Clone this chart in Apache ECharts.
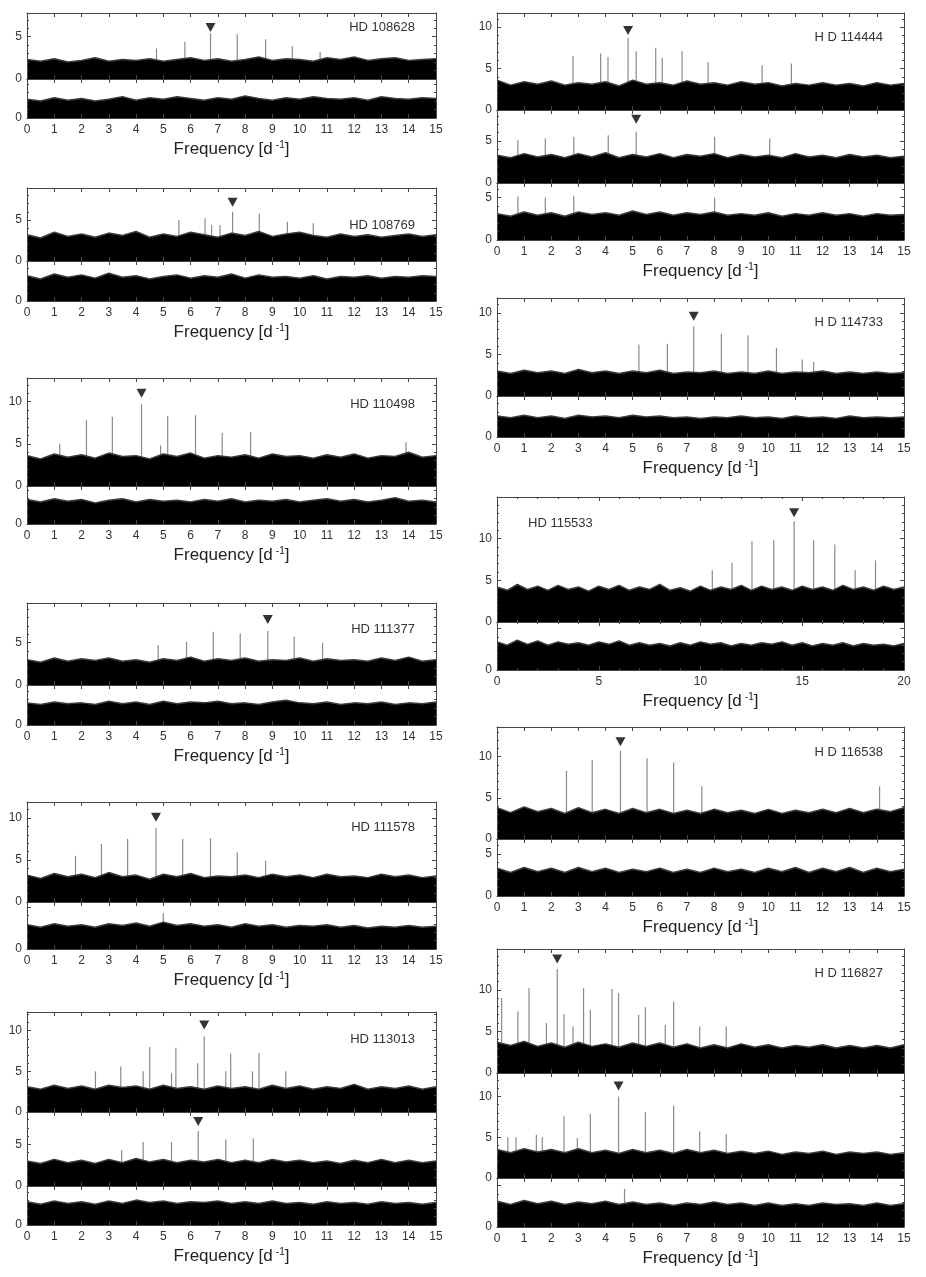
<!DOCTYPE html>
<html>
<head>
<meta charset="utf-8">
<script src="https://cdn.jsdelivr.net/npm/echarts@6/dist/echarts.min.js"></script>
<style>
  html, body { margin: 0; padding: 0; background: #fff; }
  #chart { width: 926px; height: 1277px; }
</style>
</head>
<body>
<div id="chart"></div>
<script>
// noise envelope (top of the black band), one value every 0.5 d-1
const hd108628NoiseA = [2.3,2.1,2.4,2.0,2.2,2.5,2.1,2.3,2.2,2.4, 2.1,2.3,2.5,2.2,2.4,2.1,2.3,2.6,2.2,2.4, 2.3,2.1,2.5,2.3,2.6,2.2,2.4,2.5,2.2,2.3,2.4]
const hd108628NoiseB = [2.2,2.0,2.4,2.1,2.3,2.0,2.2,2.5,2.1,2.4, 2.2,2.5,2.3,2.1,2.4,2.2,2.6,2.3,2.1,2.4, 2.2,2.5,2.3,2.2,2.4,2.1,2.5,2.3,2.2,2.4,2.3]
const hd108769NoiseA = [3.2,2.8,3.5,3.0,3.3,2.9,3.4,3.1,3.6,2.9, 3.3,3.0,3.5,3.2,2.9,3.4,3.1,3.6,3.0,3.3, 3.5,3.1,2.9,3.3,3.0,3.2,2.9,3.1,3.3,3.0,3.2]
const hd108769NoiseB = [3.1,2.7,3.3,2.9,3.2,2.8,3.4,2.9,3.1,2.7, 3.0,3.2,2.8,3.1,2.9,3.3,2.8,3.2,2.9,3.0, 2.8,3.1,2.7,3.0,2.9,3.1,2.8,3.0,2.9,3.1,3.0]
const hd110498NoiseA = [3.6,3.2,3.8,3.4,3.7,3.3,3.9,3.5,3.6,3.2, 3.8,3.5,3.9,3.3,3.6,3.4,3.7,3.3,3.8,3.5, 3.6,3.3,3.7,3.4,3.8,3.3,3.6,3.5,4.0,3.4,3.6]
const hd110498NoiseB = [2.9,2.6,3.0,2.7,2.9,2.5,2.8,3.0,2.6,2.9, 2.7,2.8,2.6,2.9,2.7,3.0,2.6,2.8,2.7,2.9, 2.6,2.8,3.0,2.7,2.9,2.6,2.8,3.1,2.7,2.8,2.6]
const hd111377NoiseA = [3.0,2.7,3.2,2.8,3.1,2.9,3.2,2.8,3.0,2.7, 3.1,2.9,3.3,2.8,3.1,2.9,3.2,2.8,3.0,2.9, 3.2,2.8,3.1,2.9,3.0,2.8,3.2,2.9,3.3,2.8,3.0]
const hd111377NoiseB = [2.6,2.4,2.7,2.5,2.6,2.4,2.8,2.5,2.7,2.4, 2.8,2.5,2.7,2.6,2.8,2.5,2.6,2.4,2.7,2.9, 2.6,2.5,2.7,2.4,2.6,2.5,2.7,2.4,2.6,2.5,2.7]
const hd111578NoiseA = [3.2,2.8,3.4,3.0,3.3,2.9,3.5,3.0,3.2,2.7, 3.3,3.0,3.4,2.9,3.1,3.0,3.2,2.9,3.3,3.0, 3.2,2.9,3.3,3.0,3.1,2.9,3.3,3.0,3.2,2.9,3.1]
const hd111578NoiseB = [2.9,2.6,3.0,2.7,2.9,2.6,3.0,2.8,3.1,2.7, 3.2,2.8,3.0,2.7,2.9,2.6,3.0,2.7,2.9,2.6, 2.8,2.7,2.9,2.6,2.8,2.5,2.7,2.6,2.8,2.6,2.7]
const hd113013NoiseA = [3.1,2.8,3.3,2.9,3.2,2.8,3.3,3.0,3.2,2.8, 3.3,2.9,3.1,2.8,3.2,2.9,3.1,2.8,3.3,2.9, 3.2,2.8,3.1,2.9,3.4,2.8,3.1,2.9,3.2,2.8,3.1]
const hd113013NoiseB = [3.0,2.7,3.2,2.8,3.1,2.7,3.2,2.8,3.3,2.9, 3.2,2.8,3.1,2.9,3.2,2.8,3.1,2.8,3.2,2.9, 3.1,2.8,3.0,2.7,3.1,2.8,3.2,2.8,3.1,2.8,3.0]
const hd113013NoiseC = [2.8,2.5,2.9,2.6,2.8,2.5,2.9,2.6,3.0,2.7, 2.9,2.6,2.8,2.7,2.9,2.6,2.8,2.6,2.9,2.6, 2.7,2.5,2.8,2.6,2.7,2.5,2.8,2.6,2.7,2.5,2.7]
const hd114444NoiseA = [3.6,3.0,3.4,3.1,3.5,3.0,3.3,3.1,3.4,2.9, 3.6,3.1,3.3,3.0,3.5,3.1,3.3,3.0,3.4,3.1, 3.3,2.9,3.2,3.0,3.3,3.0,3.2,2.9,3.3,3.0,3.2]
const hd114444NoiseB = [3.3,3.0,3.5,3.1,3.4,3.0,3.5,3.1,3.6,3.0, 3.4,3.1,3.5,3.0,3.4,3.2,3.5,3.0,3.4,3.1, 3.3,3.0,3.5,3.1,3.3,3.0,3.4,3.1,3.3,3.0,3.2]
const hd114444NoiseC = [3.1,2.8,3.3,2.9,3.2,2.8,3.3,3.0,3.2,2.9, 3.4,3.0,3.3,2.9,3.2,3.0,3.3,2.9,3.1,2.9, 3.2,2.8,3.1,2.9,3.2,2.9,3.1,2.8,3.1,2.9,3.0]
const hd114733NoiseA = [3.0,2.7,3.1,2.8,3.0,2.7,3.2,2.8,3.0,2.7, 3.0,2.8,3.1,2.7,2.9,2.8,3.0,2.7,2.9,2.7, 3.0,2.7,2.9,2.8,3.0,2.7,2.9,2.7,2.9,2.7,2.8]
const hd114733NoiseB = [2.5,2.3,2.6,2.3,2.5,2.2,2.6,2.4,2.5,2.3, 2.6,2.4,2.5,2.3,2.4,2.2,2.4,2.3,2.5,2.3, 2.4,2.2,2.5,2.3,2.4,2.2,2.5,2.3,2.4,2.3,2.4]
const hd115533NoiseA = [4.2,3.8,4.5,3.9,4.3,3.8,4.4,3.9,4.2,3.7, 4.3,3.9,4.4,3.8,4.2,3.9,4.5,3.8,4.1,3.7, 4.3,3.8,4.2,3.9,4.4,3.8,4.3,3.9,4.2,3.8, 4.3,3.9,4.2,3.8,4.4,3.9,4.2,3.8,4.3,3.9,4.2]
const hd115533NoiseB = [3.4,3.0,3.6,3.1,3.5,3.0,3.4,3.1,3.3,3.0, 3.4,3.1,3.5,3.0,3.3,3.0,3.2,2.9,3.3,3.0, 3.4,3.1,3.3,2.9,3.2,3.0,3.3,3.1,3.4,3.0, 3.3,2.9,3.2,3.0,3.3,2.9,3.2,3.0,3.1,2.9,3.2]
const hd116538NoiseA = [3.8,3.2,3.9,3.3,3.7,3.1,3.8,3.2,3.6,3.1, 3.7,3.2,3.6,3.1,3.5,3.1,3.6,3.2,3.5,3.1, 3.6,3.1,3.5,3.2,3.6,3.2,3.7,3.2,3.6,3.3,3.8]
const hd116538NoiseB = [3.3,2.8,3.4,2.9,3.3,2.8,3.4,2.9,3.3,2.8, 3.2,2.9,3.3,2.8,3.2,2.8,3.3,2.9,3.2,2.8, 3.3,2.9,3.4,2.8,3.3,2.9,3.4,2.8,3.3,2.9,3.2]
const hd116827NoiseA = [3.7,3.3,3.8,3.2,3.6,3.1,3.7,3.2,3.5,3.1, 3.6,3.2,3.6,3.1,3.5,3.0,3.4,3.0,3.5,3.1, 3.4,3.0,3.3,3.1,3.4,3.0,3.3,3.0,3.3,3.0,3.4]
const hd116827NoiseB = [3.5,3.1,3.6,3.2,3.5,3.1,3.6,3.1,3.4,3.0, 3.5,3.1,3.4,3.0,3.5,3.1,3.4,3.0,3.3,3.0, 3.3,2.9,3.2,3.0,3.3,2.9,3.2,3.0,3.2,2.9,3.1]
const hd116827NoiseC = [3.1,2.7,3.2,2.8,3.1,2.7,3.0,2.8,3.1,2.7, 3.0,2.7,2.9,2.6,2.9,2.7,3.0,2.7,2.9,2.6, 2.9,2.6,2.8,2.6,2.9,2.7,2.8,2.6,2.9,2.6,2.8]

// peaks [frequency, amplitude]
const hd108628PeaksA = [[4.75,3.6],[5.79,4.4],[6.73,5.4],[7.71,5.3],[8.75,4.7],[9.73,3.9],[10.75,3.2]]
const hd108769PeaksA = [[5.57,5.0],[6.53,5.2],[6.77,4.4],[7.08,4.4],[7.54,6.0],[8.52,5.8],[9.55,4.8],[10.5,4.6]]
const hd110498PeaksA = [[1.2,5.0],[2.18,7.8],[3.13,8.2],[4.2,9.7],[4.9,4.8],[5.16,8.3],[6.18,8.4],[7.16,6.3],[8.2,6.4],[13.9,5.2]]
const hd111377PeaksA = [[4.81,4.7],[5.85,5.1],[6.83,6.3],[7.82,6.1],[8.83,6.4],[9.8,5.7],[10.84,5.0]]
const hd111578PeaksA = [[1.78,5.5],[2.73,6.9],[3.69,7.5],[4.73,8.8],[5.71,7.5],[6.73,7.6],[7.71,5.9],[8.75,4.9]]
const hd111578PeaksB = [[5.0,4.3]]
const hd113013PeaksA = [[2.51,5.0],[3.44,5.6],[4.26,5.0],[4.5,8.0],[5.3,4.8],[5.46,7.9],[6.26,6.0],[6.5,9.3],[7.29,5.0],[7.47,7.2],[8.27,5.0],[8.51,7.3],[9.49,5.0]]
const hd113013PeaksB = [[3.47,4.3],[4.26,5.3],[5.3,5.3],[6.28,6.6],[7.29,5.6],[8.3,5.7]]
const hd114444PeaksA = [[2.8,6.5],[3.82,6.8],[4.09,6.4],[4.83,8.7],[5.13,7.1],[5.85,7.5],[6.09,6.3],[6.82,7.1],[7.78,5.8],[9.77,5.4],[10.85,5.6]]
const hd114444PeaksB = [[0.77,5.1],[1.78,5.3],[2.83,5.5],[4.1,5.7],[5.13,6.1],[8.02,5.5],[10.05,5.3]]
const hd114444PeaksC = [[0.77,5.1],[1.78,5.0],[2.83,5.2],[8.02,5.0]]
const hd114733PeaksA = [[5.23,6.2],[6.28,6.3],[7.25,8.4],[8.27,7.5],[9.25,7.3],[10.3,5.8],[11.25,4.4],[11.67,4.1]]
const hd115533PeaksA = [[10.58,6.2],[11.55,7.1],[12.53,9.7],[13.6,9.8],[14.6,12.1],[15.56,9.8],[16.6,9.3],[17.6,6.2],[18.6,7.4]]
const hd116538PeaksA = [[2.56,8.3],[3.51,9.6],[4.55,10.7],[5.53,9.8],[6.51,9.3],[7.55,6.4],[14.1,6.4]]
const hd116827PeaksA = [[0.17,9.0],[0.77,7.4],[1.18,10.2],[1.82,6.0],[2.22,12.5],[2.47,7.1],[2.8,5.6],[3.19,10.2],[3.44,7.6],[4.24,10.1],[4.48,9.6],[5.22,7.0],[5.47,7.9],[6.2,5.8],[6.51,8.6],[7.47,5.6],[8.45,5.6]]
const hd116827PeaksB = [[0.4,5.0],[0.7,5.0],[1.45,5.3],[1.67,5.0],[2.47,7.6],[2.96,4.9],[3.44,7.9],[4.48,10.0],[5.47,8.1],[6.51,8.9],[7.47,5.7],[8.45,5.4]]
const hd116827PeaksC = [[4.7,4.6]]

// identified frequency markers [frequency, marker height]
const hd108628Mark = [6.73, 6.1]
const hd108769Mark = [7.54, 7.15]
const hd110498Mark = [4.2, 11.0]
const hd111377Mark = [8.83, 7.75]
const hd111578Mark = [4.73, 10.1]
const hd113013MarkA = [6.5, 10.7]
const hd113013MarkB = [6.28, 7.75]
const hd114444MarkA = [4.83, 9.6]
const hd114444MarkB = [5.13, 7.6]
const hd114733Mark = [7.25, 9.6]
const hd115533Mark = [14.6, 13.1]
const hd116538Mark = [4.55, 11.8]
const hd116827MarkA = [2.22, 13.7]
const hd116827MarkB = [4.48, 11.3]

const columns = [{ left: 27, width: 409, labelX: 415 }, { left: 497, width: 407, labelX: 883 }]

const panels = [
  { name: 'HD 108628', col: 0, labelY: 27, subs: [
    { top: 13, bottom: 79, max: 7.8, noise: hd108628NoiseA, peaks: hd108628PeaksA, mark: hd108628Mark },
    { top: 79, bottom: 118, max: 4.6, noise: hd108628NoiseB }] },
  { name: 'HD 108769', col: 0, labelY: 225, subs: [
    { top: 188, bottom: 261, max: 8.9, noise: hd108769NoiseA, peaks: hd108769PeaksA, mark: hd108769Mark },
    { top: 261, bottom: 301, max: 4.9, noise: hd108769NoiseB }] },
  { name: 'HD 110498', col: 0, labelY: 404, subs: [
    { top: 378, bottom: 486, max: 12.8, noise: hd110498NoiseA, peaks: hd110498PeaksA, mark: hd110498Mark },
    { top: 486, bottom: 524, max: 4.5, noise: hd110498NoiseB }] },
  { name: 'HD 111377', col: 0, labelY: 629, subs: [
    { top: 603, bottom: 685, max: 9.7, noise: hd111377NoiseA, peaks: hd111377PeaksA, mark: hd111377Mark },
    { top: 685, bottom: 725, max: 4.7, noise: hd111377NoiseB }] },
  { name: 'HD 111578', col: 0, labelY: 827, subs: [
    { top: 802, bottom: 902, max: 11.9, noise: hd111578NoiseA, peaks: hd111578PeaksA, mark: hd111578Mark },
    { top: 902, bottom: 949, max: 5.6, noise: hd111578NoiseB, peaks: hd111578PeaksB, labels: [0] }] },
  { name: 'HD 113013', col: 0, labelY: 1039, subs: [
    { top: 1012, bottom: 1112, max: 12.3, noise: hd113013NoiseA, peaks: hd113013PeaksA, mark: hd113013MarkA },
    { top: 1112, bottom: 1186, max: 8.9, noise: hd113013NoiseB, peaks: hd113013PeaksB, mark: hd113013MarkB },
    { top: 1186, bottom: 1225, max: 4.7, noise: hd113013NoiseC }] },
  { name: 'H D 114444', col: 1, labelY: 37, subs: [
    { top: 13, bottom: 110, max: 11.7, noise: hd114444NoiseA, peaks: hd114444PeaksA, mark: hd114444MarkA },
    { top: 110, bottom: 183, max: 8.7, noise: hd114444NoiseB, peaks: hd114444PeaksB, mark: hd114444MarkB },
    { top: 183, bottom: 240, max: 6.7, noise: hd114444NoiseC, peaks: hd114444PeaksC }] },
  { name: 'H D 114733', col: 1, labelY: 322, subs: [
    { top: 298, bottom: 396, max: 11.8, noise: hd114733NoiseA, peaks: hd114733PeaksA, mark: hd114733Mark },
    { top: 396, bottom: 437, max: 4.9, noise: hd114733NoiseB }] },
  { name: 'HD 115533', col: 1, labelY: 523, labelLeft: 528, xMax: 20, xStep: 5, subs: [
    { top: 497, bottom: 622, max: 15.0, noise: hd115533NoiseA, peaks: hd115533PeaksA, mark: hd115533Mark },
    { top: 622, bottom: 670, max: 5.8, noise: hd115533NoiseB, labels: [0] }] },
  { name: 'H D 116538', col: 1, labelY: 752, subs: [
    { top: 727, bottom: 839, max: 13.6, noise: hd116538NoiseA, peaks: hd116538PeaksA, mark: hd116538Mark },
    { top: 839, bottom: 896, max: 6.8, noise: hd116538NoiseB }] },
  { name: 'H D 116827', col: 1, labelY: 973, subs: [
    { top: 949, bottom: 1073, max: 14.9, noise: hd116827NoiseA, peaks: hd116827PeaksA, mark: hd116827MarkA },
    { top: 1073, bottom: 1178, max: 12.9, noise: hd116827NoiseB, peaks: hd116827PeaksB, mark: hd116827MarkB },
    { top: 1178, bottom: 1227, max: 5.9, noise: hd116827NoiseC, peaks: hd116827PeaksC, labels: [0] }] }
]

const FONT = '"Liberation Sans", Arial, Helvetica, sans-serif'
const AXIS_COLOR = '#444'

const option = {
  animation: false,
  backgroundColor: '#fff',
  textStyle: { fontFamily: FONT },
  grid: [], xAxis: [], yAxis: [], series: [], graphic: []
}

let gi = 0
panels.forEach(p => {
  const col = columns[p.col]
  const xMax = p.xMax || 15
  const xStep = p.xStep || 1

  option.graphic.push({
    type: 'text',
    x: p.labelLeft || col.labelX,
    y: p.labelY,
    z: 100,
    style: {
      text: p.name,
      font: '13px ' + FONT,
      fill: '#333',
      textAlign: p.labelLeft ? 'left' : 'right',
      textVerticalAlign: 'middle'
    }
  })

  p.subs.forEach((s, k) => {
    const last = k === p.subs.length - 1
    option.grid.push({ left: col.left, width: col.width, top: s.top, height: s.bottom - s.top })

    const tick = { show: true, inside: true, length: 4, lineStyle: { color: AXIS_COLOR } }
    const line = { show: true, onZero: false, lineStyle: { color: AXIS_COLOR, width: 1 } }
    const xCommon = {
      type: 'value', gridIndex: gi, min: 0, max: xMax, interval: xStep,
      axisLine: line, axisTick: tick, splitLine: { show: false }, z: 10,
      minorTick: { show: xStep > 1, splitNumber: 5, length: 2, lineStyle: { color: AXIS_COLOR } }
    }
    option.xAxis.push(Object.assign({}, xCommon, {
      position: 'bottom',
      axisLabel: { show: last, fontSize: 12, color: '#333', margin: 6 },
      name: last ? 'Frequency [d{s|-1}]' : '',
      nameLocation: 'middle',
      nameGap: 22,
      nameTextStyle: {
        fontSize: 17, color: '#222', fontFamily: FONT,
        rich: { s: { fontSize: 10, verticalAlign: 'top', padding: [0, 0, 9, 3], fontFamily: FONT } }
      }
    }))
    option.xAxis.push(Object.assign({}, xCommon, { position: 'top', axisLabel: { show: false } }))

    const labels = s.labels || [0, 5, 10]
    const yCommon = {
      type: 'value', gridIndex: gi, min: 0, max: s.max, interval: 5,
      axisLine: line, axisTick: tick, splitLine: { show: false }, z: 10,
      minorTick: { show: true, splitNumber: 5, length: 2, lineStyle: { color: AXIS_COLOR } }
    }
    option.yAxis.push(Object.assign({}, yCommon, {
      position: 'left',
      axisLabel: {
        fontSize: 12, color: '#333', margin: 5, showMaxLabel: true,
        formatter: v => (labels.indexOf(v) >= 0 ? String(v) : '')
      }
    }))
    option.yAxis.push(Object.assign({}, yCommon, { position: 'right', axisLabel: { show: false } }))

    const xi = 2 * gi
    const yi = 2 * gi
    option.series.push({
      type: 'line', xAxisIndex: xi, yAxisIndex: yi, z: 3,
      data: s.noise.map((v, i) => [i * 0.5, v]),
      symbol: 'none', silent: true,
      lineStyle: { color: '#3c3c3c', width: 1.5 },
      areaStyle: { color: '#000', opacity: 1 }
    })
    if (s.peaks) {
      option.series.push({
        type: 'bar', xAxisIndex: xi, yAxisIndex: yi, z: 2,
        data: s.peaks, barWidth: 1.2, silent: true,
        itemStyle: { color: '#8a8a8a' }
      })
    }
    if (s.mark) {
      option.series.push({
        type: 'scatter', xAxisIndex: xi, yAxisIndex: yi, z: 4,
        data: [s.mark], symbol: 'triangle', symbolRotate: 180, symbolSize: [10, 9],
        silent: true, itemStyle: { color: '#000' }
      })
    }
    gi++
  })
})

const chart = echarts.init(document.getElementById('chart'), null, { renderer: 'canvas' })
chart.setOption(option)
</script>
</body>
</html>
